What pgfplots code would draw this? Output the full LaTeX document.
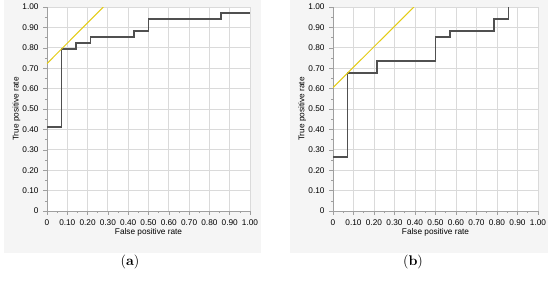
\documentclass[border=0pt]{standalone}
\usepackage{fontspec}
\setsansfont{Liberation Sans}
\usepackage{pgfplots}
\pgfplotsset{compat=1.18}

\definecolor{stepgray}{RGB}{80,80,80}
\definecolor{tangent}{RGB}{228,204,20}
\definecolor{panelbg}{RGB}{245,245,245}
\definecolor{gridgray}{RGB}{218,218,218}

\pgfplotsset{
  rocpanel/.style={
    scale only axis,
    width=152.25pt, height=153pt,
    xmin=0, xmax=1, ymin=0, ymax=1,
    axis lines*=left,
    axis line style={color=gray!75, line width=0.5pt},
    axis background/.style={fill=white},
    xtick={0,0.1,...,1}, ytick={0,0.1,...,1},
    xticklabels={0,0.10,0.20,0.30,0.40,0.50,0.60,0.70,0.80,0.90,1.00},
    yticklabels={0,0.10,0.20,0.30,0.40,0.50,0.60,0.70,0.80,0.90,1.00},
    minor tick num=1,
    tick align=outside,
    major tick length=2.8pt, minor tick length=1.5pt,
    tick style={color=gray!75, line width=0.4pt},
    grid=major,
    major grid style={color=gridgray, line width=0.6pt},
    /pgf/number format/assume math mode=true,
    tick label style={font=\sffamily\fontsize{6.2}{7}\selectfont},
    label style={font=\sffamily\fontsize{6.2}{7}\selectfont},
    xlabel={False positive rate},
    ylabel={True positive rate},
    xlabel style={at={(axis description cs:0.5,-0.103)}, anchor=center},
    ylabel style={at={(axis description cs:-0.15,0.5)}, anchor=center},
    clip=true,
  },
  roc/.style={const plot, color=stepgray, line width=1.1pt, mark=none},
  tan/.style={color=tangent, line width=0.75pt, mark=none},
}

\begin{document}
\begin{tikzpicture}
\useasboundingbox (0pt,0pt) rectangle (412.5pt,210pt);
\fill[panelbg] (3pt,20.25pt) rectangle (195.75pt,210pt);
\fill[panelbg] (217.5pt,20.25pt) rectangle (411pt,210pt);

% (a)
\begin{axis}[rocpanel, at={(35.25pt,51.75pt)}, anchor=origin]
\addplot[roc] coordinates {
  (0,0.4118) (0.0714,0.7941) (0.1429,0.8235) (0.2143,0.8529)
  (0.4286,0.8824) (0.5,0.9412) (0.8571,0.9706) (1,0.9706)
};
\addplot[tan] coordinates {(0,0.7227) (0.2773,1)};
\end{axis}

% (b)
\begin{axis}[rocpanel, width=153.75pt, at={(249.75pt,51.75pt)}, anchor=origin]
\addplot[roc] coordinates {
  (0,0.2647) (0.0714,0.6765) (0.2143,0.7353) (0.5,0.8529)
  (0.5714,0.8824) (0.7857,0.9412) (0.8571,1)
};
\addplot[tan] coordinates {(0,0.6051) (0.3949,1)};
\end{axis}

\node[font=\fontsize{10.5}{12}\selectfont] at (97.5pt,13.5pt) {(\textbf{a})};
\node[font=\fontsize{10.5}{12}\selectfont] at (309.75pt,13.5pt) {(\textbf{b})};
\end{tikzpicture}
\end{document}
